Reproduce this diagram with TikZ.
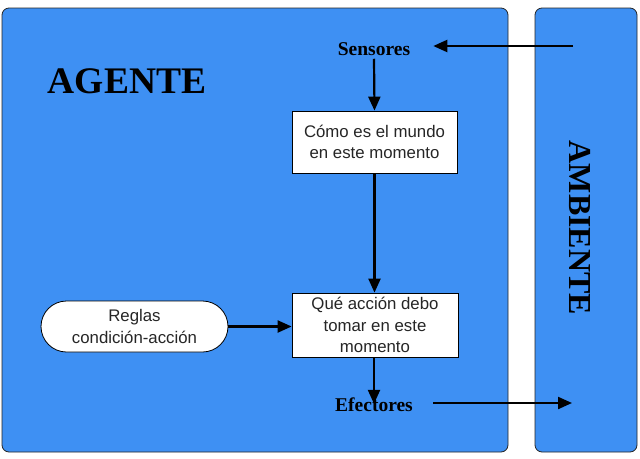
\documentclass[tikz,border=0pt]{standalone}
\usepackage{fontspec}
\setmainfont{Liberation Serif}
\setsansfont{Liberation Sans}
\usetikzlibrary{positioning,arrows.meta,shapes,calc}
\definecolor{panelblue}{RGB}{62,144,243}
\tikzset{
  panel/.style={draw=black!85, fill=panelblue, rounded corners=7pt, line width=0.8pt},
  stepbox/.style={draw=black, fill=white, line width=0.8pt, inner sep=2pt,
    font=\sffamily\fontsize{16.8}{21.5}\selectfont, text=black!85, align=center},
  rulebox/.style={stepbox, rounded rectangle},
  port/.style={inner sep=0pt, font=\bfseries\fontsize{19.5}{21}\selectfont},
  flow/.style={-{Triangle[length=14pt,width=12pt]}, line width=2.2pt}
}

\begin{document}
\begin{tikzpicture}[x=1pt,y=-1pt]
    \useasboundingbox (0,0) rectangle (640,458);

    % the two panels
    \draw[panel] (2,8) rectangle (508,452);
    \draw[panel] (535,8) rectangle (637,452);

    % panel titles
    \node[font=\bfseries\fontsize{37.5}{40}\selectfont] (agent) at (127,81) {AGENTE};
    \node[font=\bfseries\fontsize{32}{34}\selectfont, rotate=-90] (env) at (580,228) {AMBIENTE};

    % inside the agent
    \node[port] (sens) at (374,49) {Sensores};
    \node[stepbox, minimum width=165pt, minimum height=62pt] (world) at (374.5,142)
        {Cómo es el mundo\\en este momento};
    \node[stepbox, minimum width=166pt, minimum height=64pt] (act) at (375,325)
        {Qué acción debo\\tomar en este\\momento};
    \node[rulebox, minimum width=191pt, minimum height=51pt] (rules) at (134.5,326.5)
        {Reglas\\condición-acción};
    \node[port] (eff) at (374,405) {Efectores};

    % free ends in the environment
    \coordinate (envin) at (573,46);
    \coordinate (envout) at (572,403);

    % connectors
    \draw[flow] (envin) -- ([xshift=23pt]sens.east |- envin);
    \draw[flow] ([yshift=-3pt]sens.south) -- (world.north);
    \draw[flow] (world.south) -- (world.south |- act.north);
    \draw[flow] (rules.east) -- (rules.east -| act.west);
    \draw[flow] (act.south -| eff.north) -- ([yshift=-6pt]eff.north);
    \draw[flow] ([xshift=20pt]eff.east |- envout) -- (envout);
\end{tikzpicture}
\end{document}
